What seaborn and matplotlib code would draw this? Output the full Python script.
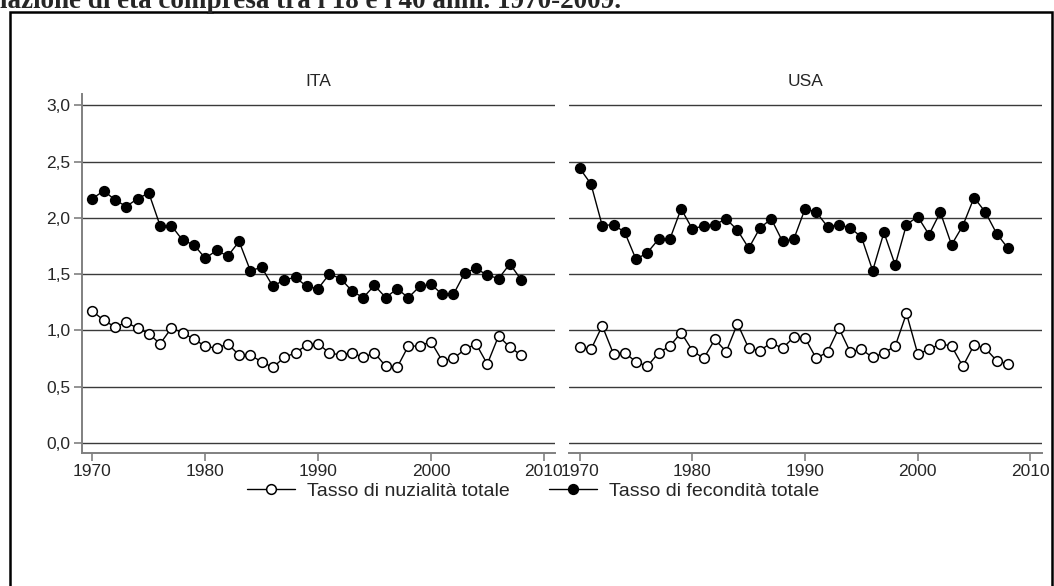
import numpy as np
import pandas as pd
import matplotlib
matplotlib.use("Agg")
import matplotlib.pyplot as plt
import seaborn as sns
from matplotlib.ticker import FuncFormatter
from matplotlib.lines import Line2D
from matplotlib.patches import Rectangle

years = list(range(1970, 2009))
ita_fec = [2.17, 2.24, 2.16, 2.10, 2.17, 2.22, 1.93, 1.93, 1.80, 1.76,
           1.64, 1.71, 1.66, 1.79, 1.53, 1.56, 1.39, 1.45, 1.47, 1.39,
           1.37, 1.50, 1.46, 1.35, 1.29, 1.40, 1.29, 1.37, 1.29, 1.39,
           1.41, 1.32, 1.32, 1.51, 1.55, 1.49, 1.46, 1.59, 1.45]
ita_nuz = [1.17, 1.09, 1.03, 1.07, 1.02, 0.97, 0.88, 1.02, 0.98, 0.92,
           0.86, 0.84, 0.88, 0.78, 0.78, 0.72, 0.67, 0.76, 0.80, 0.87,
           0.88, 0.80, 0.78, 0.80, 0.76, 0.80, 0.68, 0.67, 0.86, 0.86,
           0.90, 0.73, 0.75, 0.83, 0.88, 0.70, 0.95, 0.85, 0.78]
usa_fec = [2.44, 2.30, 1.93, 1.94, 1.87, 1.63, 1.69, 1.81, 1.81, 2.08,
           1.90, 1.93, 1.94, 1.99, 1.89, 1.73, 1.91, 1.99, 1.79, 1.81,
           2.08, 2.05, 1.92, 1.94, 1.91, 1.83, 1.53, 1.87, 1.58, 1.94,
           2.01, 1.85, 2.05, 1.76, 1.93, 2.18, 2.05, 1.86, 1.73]
usa_nuz = [0.85, 0.83, 1.04, 0.79, 0.80, 0.72, 0.68, 0.80, 0.86, 0.98,
           0.82, 0.75, 0.92, 0.81, 1.06, 0.84, 0.82, 0.89, 0.84, 0.94,
           0.93, 0.75, 0.81, 1.02, 0.81, 0.83, 0.76, 0.80, 0.86, 1.15,
           0.79, 0.83, 0.88, 0.86, 0.68, 0.87, 0.84, 0.73, 0.70]
countries = ["ITA", "USA"]
label_nuz = "Tasso di nuzialità totale"
label_fec = "Tasso di fecondità totale"
x_ticks = [1970, 1980, 1990, 2000, 2010]
y_ticks = [0.0, 0.5, 1.0, 1.5, 2.0, 2.5, 3.0]
header = "lazione di età compresa tra i 18 e i 40 anni. 1970-2009."

data = {
    "ITA": {"nuz": ita_nuz, "fec": ita_fec},
    "USA": {"nuz": usa_nuz, "fec": usa_fec},
}

sns.set_theme(style="white")
plt.rcParams["font.family"] = ["Liberation Sans", "DejaVu Sans"]

W, H = 1054, 586
fig = plt.figure(figsize=(W / 100, H / 100), dpi=100)

def fx(px):
    return px / W

def fy(py):
    return 1 - py / H

top, bottom = 94, 453
axes_px = {"ITA": (81.7, 555.0), "USA": (569.0, 1041.7)}
spine_col = "#808080"
grid_col = "#3a3a3a"
msize = 7.0
tick_fs = 12.5

for c in countries:
    l, r = axes_px[c]
    ax = fig.add_axes([fx(l), fy(bottom), fx(r - l), (bottom - top) / H])
    df = pd.DataFrame({"anno": years, "nuz": data[c]["nuz"], "fec": data[c]["fec"]})
    for y in y_ticks:
        ax.axhline(y, color=grid_col, lw=1.0, zorder=1)
    sns.lineplot(data=df, x="anno", y="nuz", ax=ax, color="black", lw=1.0,
                 marker="o", markersize=msize, markerfacecolor="white",
                 markeredgecolor="black", markeredgewidth=1.1, zorder=3)
    sns.lineplot(data=df, x="anno", y="fec", ax=ax, color="black", lw=1.0,
                 marker="o", markersize=msize, markerfacecolor="black",
                 markeredgecolor="black", markeredgewidth=1.1, zorder=3)
    ax.set_xlim(1969.05, 2011.0)
    ax.set_ylim(-0.09, 3.1)
    ax.set_xticks(x_ticks)
    ax.set_yticks(y_ticks)
    ax.yaxis.set_major_formatter(FuncFormatter(lambda v, p: f"{v:.1f}".replace(".", ",")))
    ax.set_xlabel("")
    ax.set_ylabel("")
    ax.set_title(c, fontsize=tick_fs, pad=6)
    for s in ["top", "right"]:
        ax.spines[s].set_visible(False)
    ax.spines["bottom"].set_color(spine_col)
    ax.spines["bottom"].set_linewidth(1.4)
    ax.tick_params(axis="x", direction="out", length=6, width=1.2, color=spine_col,
                   labelsize=tick_fs, pad=2, bottom=True)
    if c == "ITA":
        ax.spines["left"].set_color(spine_col)
        ax.spines["left"].set_linewidth(1.4)
        ax.tick_params(axis="y", direction="out", length=6, width=1.2, color=spine_col,
                       labelsize=tick_fs, pad=2, left=True)
    else:
        ax.spines["left"].set_visible(False)
        ax.tick_params(axis="y", left=False, labelleft=False)
    ax.grid(False)
    ax.set_facecolor("none")

handles = [
    Line2D([], [], color="black", lw=1.0, marker="o", markersize=msize,
           markerfacecolor="white", markeredgecolor="black", markeredgewidth=1.1),
    Line2D([], [], color="black", lw=1.0, marker="o", markersize=msize,
           markerfacecolor="black", markeredgecolor="black", markeredgewidth=1.1),
]
fig.legend(handles, [label_nuz, label_fec], loc="center", ncol=2,
           bbox_to_anchor=(fx(533), fy(491)), frameon=False, fontsize=14,
           handlelength=2.5, columnspacing=2.0, handletextpad=0.6)

fig.text(0.0, fy(7.5), header, family=["Liberation Serif", "DejaVu Serif"],
         fontweight="bold", fontsize=19.5, va="baseline", ha="left")

fig.patches.append(Rectangle((fx(10), fy(640)), fx(1052 - 10), (640 - 12) / H,
                             transform=fig.transFigure, fill=False,
                             edgecolor="black", lw=1.8))

fig.savefig("out.png", dpi=100)
